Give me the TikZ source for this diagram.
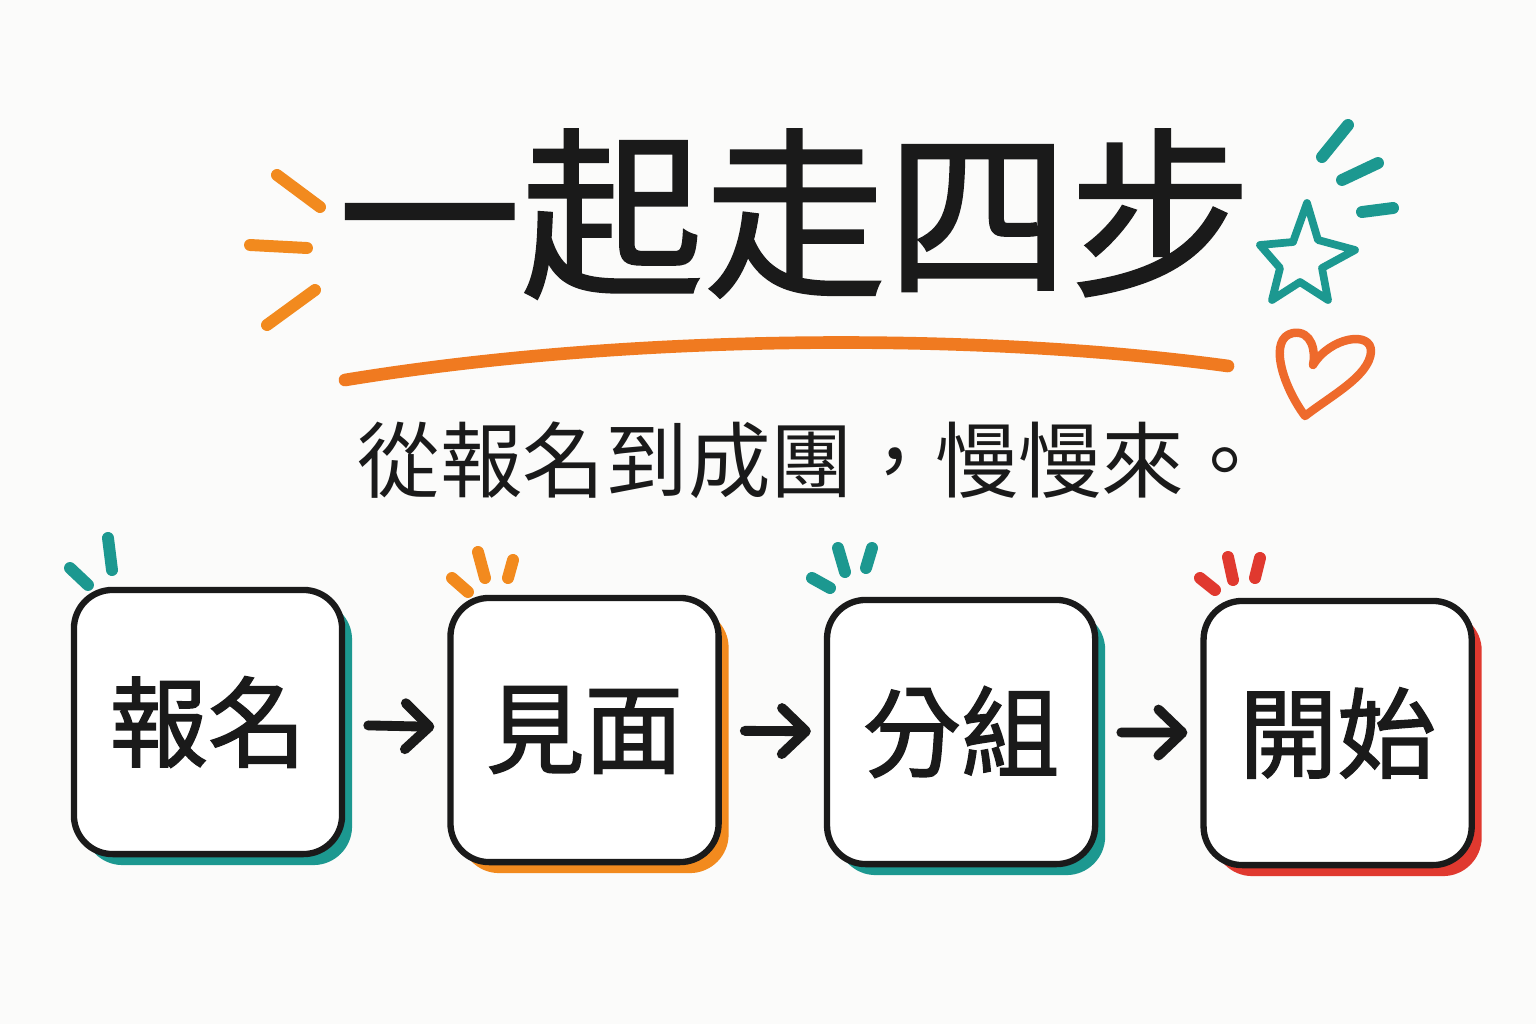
\documentclass[tikz,border=0pt]{standalone}
\usepackage{fontspec}
\newfontfamily\cjk{Noto Sans CJK TC}
\newfontfamily\cjkmarker[FakeBold=1.6]{Noto Sans CJK TC}
\newfontfamily\cjktitle[FakeBold=1.2]{Noto Sans CJK TC}
\usepackage{xcolor}
\usetikzlibrary{arrows.meta, shadows, positioning}
\definecolor{inkblack}{HTML}{1A1A1A}
\definecolor{penteal}{HTML}{1C9890}
\definecolor{penorange}{HTML}{F28A1E}
\definecolor{penline}{HTML}{F07A20}
\definecolor{penheart}{HTML}{EE6A2C}
\definecolor{penred}{HTML}{E0392F}
\definecolor{paper}{HTML}{FBFBFA}
\tikzset{> = { Straight Barb[length = 2.4mm, width = 4.6mm, round] }}

\begin{document}
\begin{tikzpicture}[x = 0.01cm, y = -0.01cm,
    stepbox/.style = { draw = inkblack, line width = 1.8pt, rounded corners = 11pt, fill = white,
                       minimum width = 2.68cm, minimum height = 2.64cm, inner sep = 0pt,
                       font = \cjkmarker\fontsize{28}{30}\selectfont, text = inkblack,
                       drop shadow={shadow xshift=1mm,shadow yshift=-1.1mm,fill=#1,opacity=1} },
    spark/.style = { line width = 3.4pt, line cap = round, draw = #1 },
    flow/.style = { ->, line width = 2.8pt, draw = inkblack, line cap = round, shorten <= 2.3mm, shorten >= 1.3mm }]
		\useasboundingbox [fill = paper] (0, 0) rectangle (1536, 1024);

		% title and subtitle
		\node [text = inkblack, font = \cjktitle\fontsize{52}{56}\selectfont] (title) at (795, 214) {一起走四步};
		\node [text = inkblack, font = \cjk\fontsize{23.5}{26}\selectfont] (subtitle) at (812, 460) {從報名到成團，慢慢來。};
		\draw [line width = 3.6pt, line cap = round, draw = penline] (345, 380) .. controls (650, 330) and (1000, 335) .. (1228, 366);

		% doodles round the title
		\draw [spark = penorange] (277, 175) -- (320, 207);
		\draw [spark = penorange] (250, 245) -- (307, 248);
		\draw [spark = penorange] (267, 325) -- (315, 290);
		\draw [spark = penteal] (1322, 157) -- (1348, 125);
		\draw [spark = penteal] (1342, 180) -- (1378, 163);
		\draw [spark = penteal] (1362, 212) -- (1393, 208);
		\draw [line width = 2.2pt, draw = penteal, line join = round]
			(1307, 203) -- (1318, 240) -- (1355, 250) -- (1322, 268) -- (1328, 300) -- (1300, 282)
			-- (1272, 300) -- (1280, 268) -- (1260, 245) -- (1293, 242) -- cycle;
		\draw [line width = 2.4pt, draw = penheart, line join = round]
			(1305, 416) .. controls (1282, 385) and (1268, 338) .. (1293, 333)
			.. controls (1312, 330) and (1316, 352) .. (1313, 365)
			.. controls (1330, 337) and (1372, 330) .. (1371, 352)
			.. controls (1369, 376) and (1332, 395) .. cycle;

		% the four steps
		\node [stepbox = penteal] (signup) at (208, 722) {報名};
		\node [stepbox = penorange, right = 1.02cm of signup, yshift = -0.08cm] (meet) {見面};
		\node [stepbox = penteal, right = 1.02cm of meet, yshift = -0.02cm] (group) {分組};
		\node [stepbox = penred, right = 1.02cm of group, yshift = -0.01cm] (start) {開始};

		\draw [flow] (signup) -- (meet);
		\draw [flow] (meet) -- (group);
		\draw [flow] (group) -- (start);

		\draw [spark = penteal] (70, 568) -- (88, 585);
		\draw [spark = penteal] (108, 538) -- (112, 570);
		\draw [spark = penorange] (452, 578) -- (468, 592);
		\draw [spark = penorange] (478, 552) -- (485, 578);
		\draw [spark = penorange] (513, 560) -- (508, 578);
		\draw [spark = penteal] (812, 578) -- (830, 588);
		\draw [spark = penteal] (838, 548) -- (845, 572);
		\draw [spark = penteal] (872, 548) -- (866, 568);
		\draw [spark = penred] (1200, 578) -- (1215, 590);
		\draw [spark = penred] (1228, 557) -- (1233, 580);
		\draw [spark = penred] (1260, 558) -- (1255, 578);
	\end{tikzpicture}
\end{document}
